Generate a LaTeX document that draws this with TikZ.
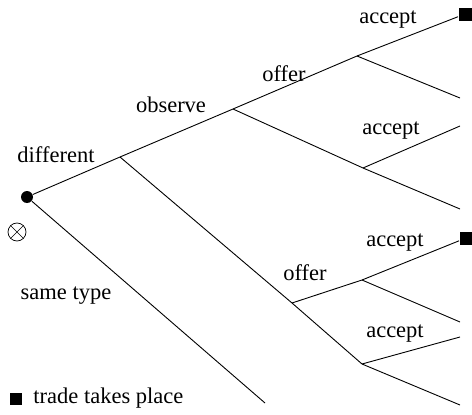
\documentclass[tikz,border=0pt]{standalone}
\usepackage{fontspec}
\setmainfont{Liberation Serif}
\usepackage{tikz}

\tikzset{
  lbl/.style={inner sep=0pt,font=\fontsize{22.5}{26}\selectfont},
  trade/.style={fill=black,inner sep=0pt,minimum size=13pt},
  move/.style={circle,fill=black,inner sep=0pt,minimum size=12pt},
}

\begin{document}
\begin{tikzpicture}[x=1pt,y=-1pt,line width=0.9pt]
\useasboundingbox (0,0) rectangle (472,415);
% branch points
\coordinate (d) at (120,157);
\coordinate (o) at (233,109);
\coordinate (f1) at (357,56);
\coordinate (e1) at (460,98);
\coordinate (a1) at (363,168);
\coordinate (e2) at (460,126);
\coordinate (e3) at (460,209);
\coordinate (f2) at (292,303);
\coordinate (a2) at (362,280);
\coordinate (e4) at (460,322);
\coordinate (a3) at (362,364);
\coordinate (e5) at (460,337);
\coordinate (e6) at (460,405);
\coordinate (s) at (265,403);
\node[move] (r) at (27,197) {};
\node[trade] (t1) at (465,14) {};
\node[trade] (t2) at (466,238) {};
% tree
\draw (r) -- (d) -- (o) -- (f1) -- (t1);
\draw (f1) -- (e1);
\draw (o) -- (a1) -- (e3);
\draw (a1) -- (e2);
\draw (r) -- (s);
\draw (d) -- (f2) -- (a3) -- (e6);
\draw (f2) -- (a2) -- (t2);
\draw (a2) -- (e4);
\draw (a3) -- (e5);
% labels
\node[lbl] (ldiff) at (56,155) {different};
\node[lbl] (lobs) at (171,105) {observe};
\node[lbl] (loff1) at (284,74) {offer};
\node[lbl] (lacc1) at (388,20) {accept};
\node[lbl] (lacc2) at (391,131) {accept};
\node[lbl] (lacc3) at (395,243) {accept};
\node[lbl] (loff2) at (305,273) {offer};
\node[lbl] (lacc4) at (395,334) {accept};
\node[lbl] (lsame) at (66,296) {same type};
% nature node
\node[draw,circle,inner sep=0pt,minimum size=18pt,line width=0.7pt] (n) at (17,232) {};
\draw[line width=0.7pt] (n.north west) -- (n.south east) (n.north east) -- (n.south west);
% legend
\node[trade,minimum size=12pt] (key) at (16,399) {};
\node[lbl,anchor=west] (lkey) at (33,398) {trade takes place};
\end{tikzpicture}
\end{document}
